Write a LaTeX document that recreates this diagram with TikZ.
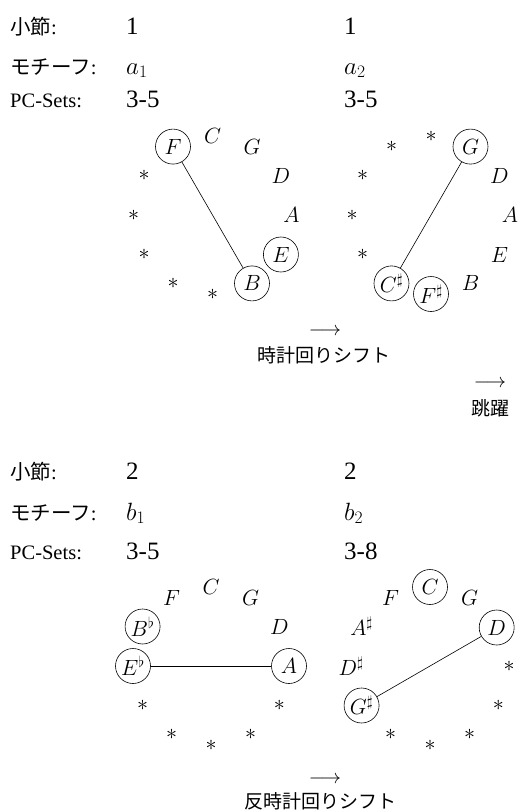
\RequirePackage{fix-cm}
\documentclass[tikz,border=0pt]{standalone}
\usepackage[no-math]{fontspec}
\setmainfont{Liberation Serif}
\newfontfamily\jp{Noto Sans CJK JP}
\begin{document}
\begin{tikzpicture}[x=1pt,y=-1pt,
  lbl/.style={anchor=base west, inner sep=0pt, font=\fontsize{20.5}{24}\selectfont},
  val/.style={anchor=base west, inner sep=0pt, font=\fontsize{25}{28}\selectfont},
  jcaption/.style={anchor=base, inner sep=0pt, font=\fontsize{19}{24}\selectfont\jp},
  arr/.style={anchor=base, inner sep=0pt, font=\fontsize{20}{24}\selectfont},
  note/.style={inner sep=0pt, font=\fontsize{22}{26}\selectfont},
  sel/.style={note, draw, circle, line width=0.6pt, minimum size=35pt},
  link/.style={line width=0.6pt}]
\useasboundingbox (0,0) rectangle (522,812);

% ---------- top header ----------
\node[lbl] (h1a) at (10,34) {{\jp 小節}:};
\node[val] (h1b) at (126,34) {1};
\node[val] (h1c) at (344,34) {1};
\node[lbl] (h2a) at (10,74) {{\jp モチーフ}:};
\node[val] (h2b) at (126,74) {$a_1$};
\node[val] (h2c) at (344,74) {$a_2$};
\node[lbl] (h3a) at (10,107) {PC-Sets:};
\node[val] (h3b) at (126,107) {3-5};
\node[val] (h3c) at (344,107) {3-5};

% ---------- top-left circle ----------
\begin{scope}[shift={(212.5,215)}, y=1pt]
\node[note] (aC)  at (90:79)   {$C$};
\node[note] (aG)  at (60:79)   {$G$};
\node[note] (aD)  at (30:79)   {$D$};
\node[note] (aA)  at (0:79)    {$A$};
\node[sel]  (aE)  at (-30:79)  {$E$};
\node[sel]  (aB)  at (-60:79)  {$B$};
\node[note] (aFs) at (-90:79)  {$*$};
\node[note] (aCs) at (-120:79) {$*$};
\node[note] (aGs) at (-150:79) {$*$};
\node[note] (aDs) at (180:79)  {$*$};
\node[note] (aAs) at (150:79)  {$*$};
\node[sel]  (aF)  at (120:79)  {$F$};
\end{scope}
\draw[link] (aF) -- (aB);

% ---------- top-right circle ----------
\begin{scope}[shift={(431,215)}, y=1pt]
\node[note] (bC)  at (90:79)   {$*$};
\node[sel]  (bG)  at (60:79)   {$G$};
\node[note] (bD)  at (30:79)   {$D$};
\node[note] (bA)  at (0:79)    {$A$};
\node[note] (bE)  at (-30:79)  {$E$};
\node[note] (bB)  at (-60:79)  {$B$};
\node[sel]  (bFs) at (-90:79)  {$F^\sharp$};
\node[sel]  (bCs) at (-120:79) {$C^\sharp$};
\node[note] (bGs) at (-150:79) {$*$};
\node[note] (bDs) at (180:79)  {$*$};
\node[note] (bAs) at (150:79)  {$*$};
\node[note] (bF)  at (120:79)  {$*$};
\end{scope}
\draw[link] (bG) -- (bCs);

% ---------- top captions ----------
\node[arr] (t1) at (325,335) {$\longrightarrow$};
\node[jcaption] (c1) at (324,362) {時計回りシフト};
\node[arr] (t2) at (490,387) {$\longrightarrow$};
\node[jcaption] (c2) at (490,415) {跳躍};

% ---------- bottom header ----------
\node[lbl] (k1a) at (10,479) {{\jp 小節}:};
\node[val] (k1b) at (126,479) {2};
\node[val] (k1c) at (344,479) {2};
\node[lbl] (k2a) at (10,520) {{\jp モチーフ}:};
\node[val] (k2b) at (126,520) {$b_1$};
\node[val] (k2c) at (344,520) {$b_2$};
\node[lbl] (k3a) at (10,559) {PC-Sets:};
\node[val] (k3b) at (126,559) {3-5};
\node[val] (k3c) at (344,559) {3-8};

% ---------- bottom-left circle ----------
\begin{scope}[shift={(211,666)}, y=1pt]
\node[note] (cC)  at (90:79)   {$C$};
\node[note] (cG)  at (60:79)   {$G$};
\node[note] (cD)  at (30:79)   {$D$};
\node[sel]  (cA)  at (0:78)    {$A$};
\node[note] (cE)  at (-30:79)  {$*$};
\node[note] (cB)  at (-60:79)  {$*$};
\node[note] (cFs) at (-90:79)  {$*$};
\node[note] (cCs) at (-120:79) {$*$};
\node[note] (cGs) at (-150:79) {$*$};
\node[sel]  (cDs) at (180:78)  {$E^\flat$};
\node[sel]  (cAs) at (150:79)  {$B^\flat$};
\node[note] (cF)  at (120:79)  {$F$};
\end{scope}
\draw[link] (cDs) -- (cA);

% ---------- bottom-right circle ----------
\begin{scope}[shift={(430,666)}, y=1pt]
\node[sel]  (dC)  at (90:79)   {$C$};
\node[note] (dG)  at (60:79)   {$G$};
\node[sel]  (dD)  at (30:77)   {$D$};
\node[note] (dA)  at (0:79)    {$*$};
\node[note] (dE)  at (-30:79)  {$*$};
\node[note] (dB)  at (-60:79)  {$*$};
\node[note] (dFs) at (-90:79)  {$*$};
\node[note] (dCs) at (-120:79) {$*$};
\node[sel]  (dGs) at (-150:79) {$G^\sharp$};
\node[note] (dDs) at (180:79)  {$D^\sharp$};
\node[note] (dAs) at (150:79)  {$A^\sharp$};
\node[note] (dF)  at (120:79)  {$F$};
\end{scope}
\draw[link] (dGs) -- (dD);

% ---------- bottom caption ----------
\node[arr] (t3) at (325,783) {$\longrightarrow$};
\node[jcaption] (c3) at (320,808) {反時計回りシフト};
\end{tikzpicture}
\end{document}
